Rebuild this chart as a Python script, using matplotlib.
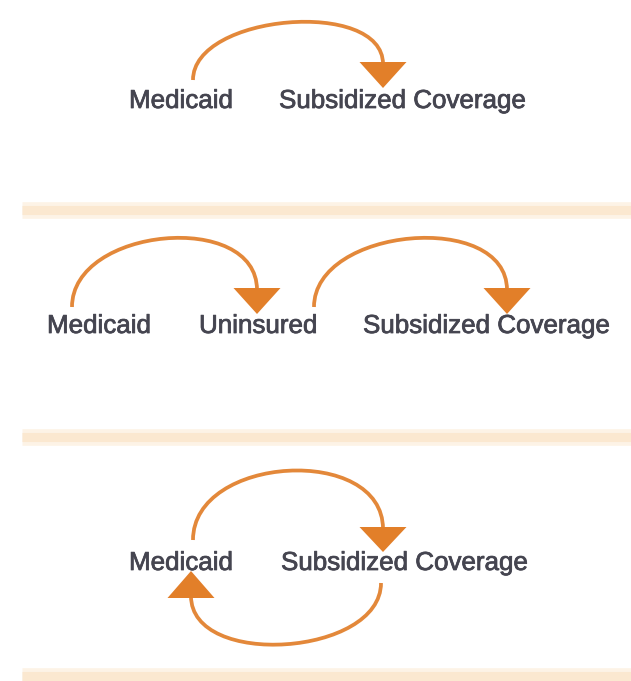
import matplotlib
matplotlib.use("Agg")
import matplotlib.pyplot as plt
import matplotlib.patheffects as pe
from matplotlib.path import Path
from matplotlib.patches import PathPatch, Polygon

# ---- content ----
row1_labels = ["Medicaid", "Subsidized Coverage"]
row2_labels = ["Medicaid", "Uninsured", "Subsidized Coverage"]
row3_labels = ["Medicaid", "Subsidized Coverage"]

# ---- layout (pixel coordinates, y downward) ----
W, H = 631, 681
row1_text_x = [129, 279]
row2_text_x = [47, 199, 363]
row3_text_x = [129, 281]
row_baselines = [108, 333, 570]
separator_y = [210, 437, 676]

ORANGE_LINE = "#e3883a"
ORANGE_HEAD = "#e27f29"
TEXT = "#454550"
SEP = "#fbe8d0"
SEP_SOFT = "#fdf3e6"
FS = 18.7

fig = plt.figure(figsize=(W / 100, H / 100), dpi=100)
ax = fig.add_axes([0, 0, 1, 1])
ax.set_xlim(0, W)
ax.set_ylim(H, 0)
ax.axis("off")


def arch(p0, p3, k, up=True):
    s = -1 if up else 1
    verts = [p0, (p0[0], p0[1] + s * k), (p3[0], p3[1] + s * k), p3]
    codes = [Path.MOVETO, Path.CURVE4, Path.CURVE4, Path.CURVE4]
    ax.add_patch(PathPatch(Path(verts, codes), fill=False, lw=2.7,
                           edgecolor=ORANGE_LINE, capstyle="butt", zorder=2))


def head(cx, base_y, tip_y, half=23.5):
    ax.add_patch(Polygon([(cx - half, base_y), (cx + half, base_y), (cx, tip_y)],
                         closed=True, facecolor=ORANGE_HEAD, edgecolor="none",
                         zorder=3))


def labels(names, xs, y):
    for n, x in zip(names, xs):
        t = ax.text(x, y, n, ha="left", va="baseline", fontsize=FS,
                    family=["Liberation Sans", "DejaVu Sans"], color=TEXT, zorder=4)
        t.set_path_effects([pe.withStroke(linewidth=0.55, foreground=TEXT)])


# separators
for y in separator_y:
    ax.plot([22, W], [y, y], color=SEP_SOFT, lw=12, solid_capstyle="butt", zorder=0)
    ax.plot([22, W], [y, y], color=SEP, lw=6.5, solid_capstyle="butt", zorder=1)

# row 1
labels(row1_labels, row1_text_x, row_baselines[0])
arch((193, 80), (383, 64), 66)
head(383, 62, 88)

# row 2
labels(row2_labels, row2_text_x, row_baselines[1])
arch((72, 307), (257, 290), 80)
head(257, 288, 314)
arch((314, 307), (507, 290), 80)
head(507, 288, 314)

# row 3
labels(row3_labels, row3_text_x, row_baselines[2])
arch((193, 540), (383, 529), 85)
head(383, 527, 552)
arch((381, 583), (191, 596), 73, up=False)
head(191, 598, 571)

fig.savefig("out.png", dpi=100, facecolor="white")
